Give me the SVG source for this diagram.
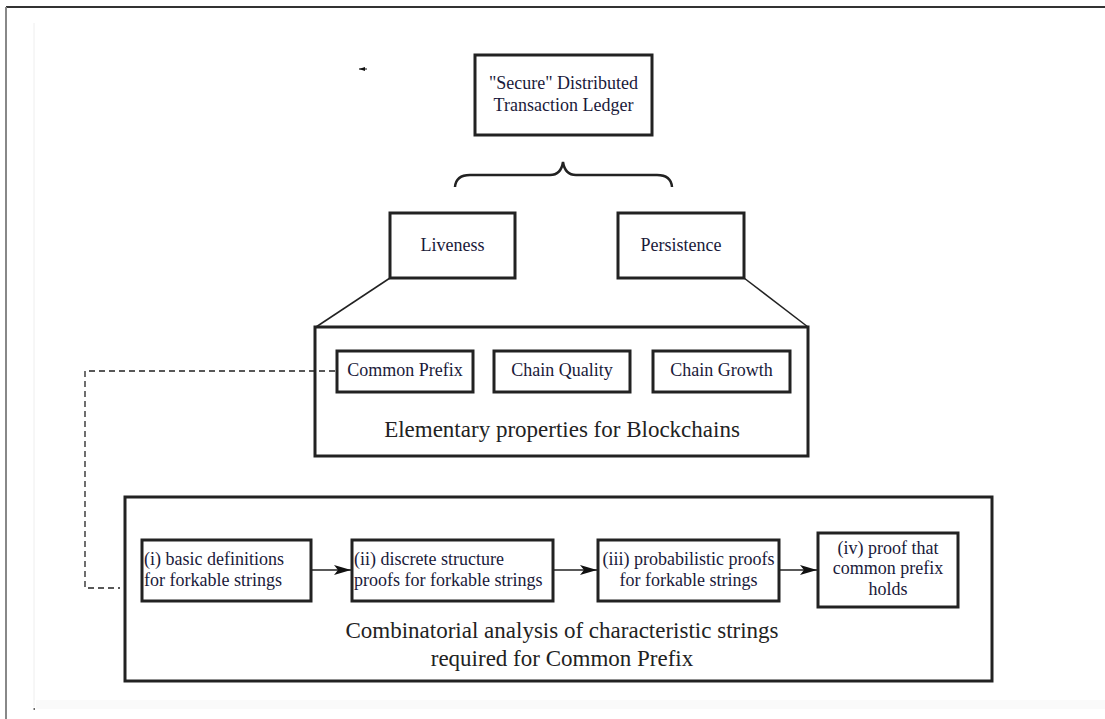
<svg xmlns="http://www.w3.org/2000/svg" width="1105" height="719" viewBox="0 0 1105 719">
<style>
.box{fill:#fff;stroke:#222;stroke-width:3}
.cont{fill:none;stroke:#222;stroke-width:3}
text{fill:#1a1a3a;font-size:18px}
.c{text-anchor:middle}
.big{font-size:23px;fill:#222}
.ln{stroke:#222;stroke-width:1.5;fill:none}
.dash{stroke:#222;stroke-width:1.3;fill:none;stroke-dasharray:6 4}
</style>
<defs>
<marker id="ah" markerWidth="18" markerHeight="10" refX="17" refY="5" orient="auto" markerUnits="userSpaceOnUse">
<path d="M0,0 L17,5 L0,10 L4,5 Z" fill="#111"/>
</marker>
<marker id="sm" markerWidth="6" markerHeight="4" refX="0" refY="2" orient="auto" markerUnits="userSpaceOnUse">
<path d="M6,0 L0,2 L6,4 Z" fill="#111"/>
</marker>
</defs>
<rect width="1105" height="719" fill="#fff"/>
<g id="frame">
<rect x="36" y="700" width="1069" height="9" fill="#fafafa"/>
<line x1="6" y1="7" x2="1105" y2="7" stroke="#333" stroke-width="2"/>
<line x1="6" y1="7" x2="6" y2="719" stroke="#888" stroke-width="2"/>
<line x1="34" y1="23" x2="34" y2="707" stroke="#eee" stroke-width="1"/>
<rect x="33.5" y="708" width="1.5" height="2" fill="#666"/>
</g>
<g font-family="'Liberation Serif', 'Times New Roman', Times, 'DejaVu Serif', serif">
<g id="ledger">
<rect class="box" x="475" y="55" width="177" height="80"/>
<text class="c" x="563.5" y="89">"Secure" Distributed</text>
<text class="c" x="563.5" y="111">Transaction Ledger</text>
</g>
<g id="liveness">
<rect class="box" x="390" y="213" width="125" height="65"/>
<text class="c" x="452.5" y="251">Liveness</text>
</g>
<g id="persistence">
<rect class="box" x="618" y="213" width="126" height="65"/>
<text class="c" x="681" y="251">Persistence</text>
</g>
<g id="elementary">
<rect class="cont" x="315" y="327" width="493" height="129"/>
<text class="c big" x="562" y="437">Elementary properties for Blockchains</text>
</g>
<g id="common-prefix">
<rect class="box" x="337" y="351" width="136" height="41"/>
<text class="c" x="405" y="376">Common Prefix</text>
</g>
<g id="chain-quality">
<rect class="box" x="494" y="351" width="136" height="41"/>
<text class="c" x="562" y="376">Chain Quality</text>
</g>
<g id="chain-growth">
<rect class="box" x="653" y="351" width="137" height="41"/>
<text class="c" x="721.5" y="376">Chain Growth</text>
</g>
<g id="combinatorial">
<rect class="cont" x="125" y="497" width="867" height="184"/>
<text class="c big" x="562" y="638">Combinatorial analysis of characteristic strings</text>
<text class="c big" x="562" y="666">required for Common Prefix</text>
</g>
<g id="step1">
<rect class="box" x="142" y="540" width="169" height="61"/>
<text x="144" y="565">(i) basic definitions</text>
<text x="144" y="586">for forkable strings</text>
</g>
<g id="step2">
<rect class="box" x="352" y="540" width="201" height="61"/>
<text x="354" y="565">(ii) discrete structure</text>
<text x="354" y="586">proofs for forkable strings</text>
</g>
<g id="step3">
<rect class="box" x="598" y="540" width="181" height="61"/>
<text class="c" x="688.5" y="565">(iii) probabilistic proofs</text>
<text class="c" x="688.5" y="586">for forkable strings</text>
</g>
<g id="step4">
<rect class="box" x="818" y="533" width="140" height="74"/>
<text class="c" x="888" y="554">(iv) proof that</text>
<text class="c" x="888" y="574">common prefix</text>
<text class="c" x="888" y="595">holds</text>
</g>
</g>
<g id="connectors">
<line x1="359" y1="69" x2="367" y2="69" stroke="#111" stroke-width="1" marker-start="url(#sm)"/>
<path class="ln" style="stroke-width:2.5" d="M455,187 Q456,175 470,175 L550,175 Q561,175 563,162 Q565,175 576,175 L657,175 Q671,175 672,187"/>
<line class="ln" x1="390" y1="278" x2="316" y2="327"/>
<line class="ln" x1="744" y1="278" x2="808" y2="327"/>
<polyline class="dash" points="335,371 85,371 85,588 120,588"/>
<line class="ln" x1="312" y1="570" x2="351" y2="570" marker-end="url(#ah)"/>
<line class="ln" x1="554" y1="570" x2="597" y2="570" marker-end="url(#ah)"/>
<line class="ln" x1="780" y1="570" x2="817" y2="570" marker-end="url(#ah)"/>
</g>
</svg>
